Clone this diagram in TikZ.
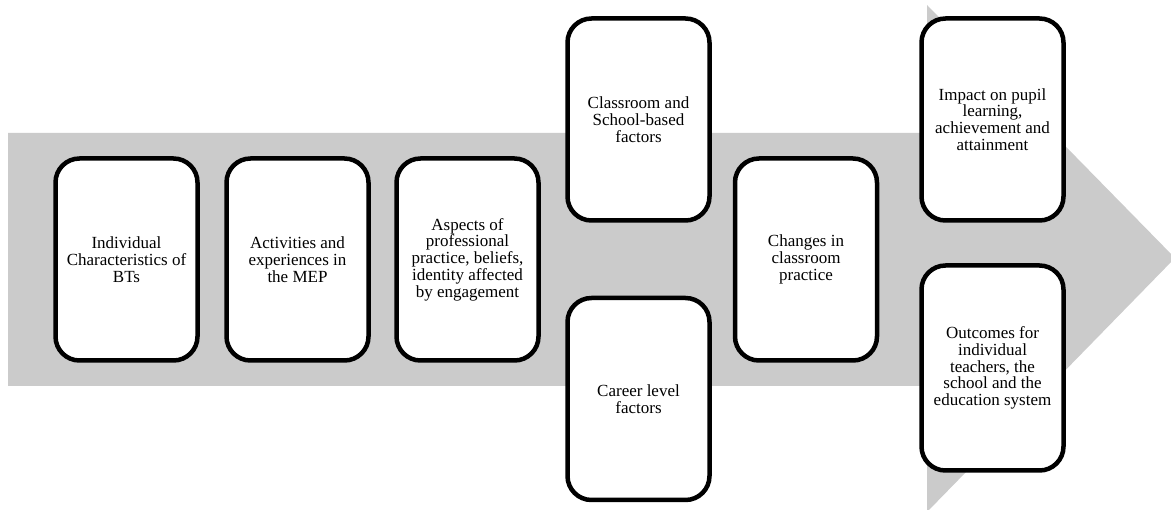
\documentclass[tikz,border=0pt]{standalone}
\usepackage{fontspec}
\setmainfont{Liberation Serif}
\definecolor{arrowgray}{HTML}{CBCBCB}
\begin{document}
\begin{tikzpicture}[x=1pt,y=-1pt,
  card/.style={draw=black, line width=4.5pt, rounded corners=24pt, fill=white,
    minimum width=142pt, minimum height=202pt, inner sep=0pt,
    align=center, font=\fontsize{17}{16.8}\selectfont},
]
\useasboundingbox (0,0) rectangle (1171,510);
\fill[arrowgray] (8,133) -- (927,133) -- (927,5) -- (1175,258) -- (927,512) -- (927,386) -- (8,386) -- cycle;
\node[card] (b1) at (126.5,259.5) {Individual\\Characteristics of\\BTs};
\node[card] (b2) at (297.5,259.5) {Activities and\\experiences in\\the MEP};
\node[card] (b3) at (467.5,259.5) {Aspects of\\professional\\practice, beliefs,\\identity affected\\by engagement};
\node[card] (b4) at (638.5,119.5) {Classroom and\\School-based\\factors};
\node[card] (b5) at (638.5,399) {Career level\\factors};
\node[card] (b6) at (806,259.5) {Changes in\\classroom\\practice};
\node[card] (b7) at (992.5,119.5) {Impact on pupil\\learning,\\achievement and\\attainment};
\node[card, minimum height=205pt] (b8) at (992.5,368) {Outcomes for\\individual\\teachers, the\\school and the\\education system};
\end{tikzpicture}
\end{document}
